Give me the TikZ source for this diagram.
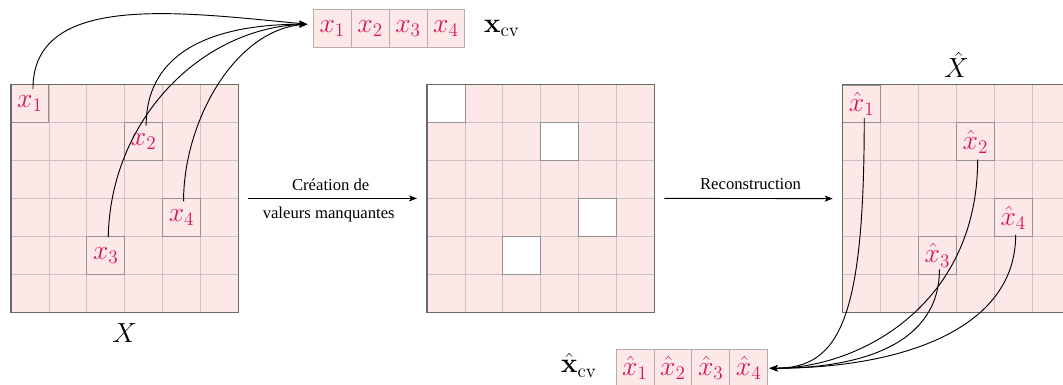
\documentclass[tikz,border=0pt]{standalone}
\usepackage[no-math]{fontspec}
\setmainfont{Liberation Serif}
\usetikzlibrary{calc,arrows.meta}
\definecolor{hl}{RGB}{214,22,90}
\definecolor{cellfill}{RGB}{253,232,232}
\definecolor{gridc}{RGB}{208,192,194}
\definecolor{borderc}{RGB}{105,105,105}
\definecolor{hcellc}{RGB}{150,145,145}
\begin{document}
\begin{tikzpicture}[x=0.75pt,y=-0.75pt,
  mat/.style={fill=cellfill, draw=none, minimum size=170.55pt, inner sep=0pt, outer sep=0pt},
  outerb/.style={draw=borderc, line width=0.8pt},
  gridline/.style={draw=gridc, line width=0.5pt},
  hcell/.style={draw=hcellc, line width=0.6pt, minimum size=28.42pt, inner sep=0pt, outer sep=0pt, text=hl, font=\fontsize{20}{24}\selectfont},
  vcell/.style={hcell, fill=cellfill, draw=gridc!70!gray},
  emptycell/.style={hcell, fill=white},
  big/.style={font=\fontsize{20}{24}\selectfont, inner sep=0pt},
  lbl/.style={font=\fontsize{12.5}{15}\selectfont, inner sep=0pt},
  curve/.style={line width=0.7pt, -{Stealth[length=6pt,width=4.5pt,inset=1.5pt]}},
  arr/.style={line width=0.7pt, -{Stealth[length=6pt,width=4.5pt,inset=1.5pt]}}
]
\clip (0,0) rectangle (1063,385);
\useasboundingbox (0,0) rectangle (1063,385);

% matrices
\node[mat] (L) at (124.7,198.4) {};
\node[mat] (M) at (540.7,198.4) {};
\node[mat] (R) at (956.4,198.6) {};
\foreach \m in {L,M,R}{
  \foreach \i in {1,...,5}{
    \draw[gridline] ($(\m.north west)+(\i*37.9,0)$) -- ($(\m.south west)+(\i*37.9,0)$);
    \draw[gridline] ($(\m.north west)+(0,\i*37.9)$) -- ($(\m.north east)+(0,\i*37.9)$);
  }
}

% highlighted cells, left
\node[hcell] (a1) at ($(L.north west)+(18.95,18.95)$) {$x_1$};
\node[hcell] (a2) at ($(L.north west)+(132.65,56.85)$) {$x_2$};
\node[hcell] (a3) at ($(L.north west)+(94.75,170.55)$) {$x_3$};
\node[hcell] (a4) at ($(L.north west)+(170.55,132.65)$) {$x_4$};

% missing cells, middle
\node[emptycell] (m1) at ($(M.north west)+(18.95,18.95)$) {};
\node[emptycell] (m2) at ($(M.north west)+(132.65,56.85)$) {};
\node[emptycell] (m3) at ($(M.north west)+(94.75,170.55)$) {};
\node[emptycell] (m4) at ($(M.north west)+(170.55,132.65)$) {};

% reconstructed cells, right
\node[hcell] (r1) at ($(R.north west)+(18.95,18.95)$) {$\hat{x}_1$};
\node[hcell] (r2) at ($(R.north west)+(132.65,56.85)$) {$\hat{x}_2$};
\node[hcell] (r3) at ($(R.north west)+(94.75,170.55)$) {$\hat{x}_3$};
\node[hcell] (r4) at ($(R.north west)+(170.55,132.65)$) {$\hat{x}_4$};

\foreach \m in {L,M,R}{
  \draw[outerb] (\m.north west) rectangle (\m.south east);
}

% labels of matrices
\node[big] (lX) at ($(L.south)+(0,21)$) {$X$};
\node[big] (lXh) at ($(R.north)+(0,-20)$) {$\hat{X}$};

% top vector
\node[vcell] (v1) at (332.25,28.2) {$x_1$};
\node[vcell, anchor=west] (v2) at (v1.east) {$x_2$};
\node[vcell, anchor=west] (v3) at (v2.east) {$x_3$};
\node[vcell, anchor=west] (v4) at (v3.east) {$x_4$};
\node[big, anchor=west] (xcv) at ($(v4.east)+(19,0)$) {$\mathbf{x}_{\mathrm{cv}}$};

% bottom vector
\node[vcell] (w1) at (634.95,368.25) {$\hat{x}_1$};
\node[vcell, anchor=west] (w2) at (w1.east) {$\hat{x}_2$};
\node[vcell, anchor=west] (w3) at (w2.east) {$\hat{x}_3$};
\node[vcell, anchor=west] (w4) at (w3.east) {$\hat{x}_4$};
\node[big, anchor=east] (xhcv) at ($(w1.west)+(-19,-3)$) {$\hat{\mathbf{x}}_{\mathrm{cv}}$};

% middle arrows
\coordinate (s1) at ($(L.east)+(10,0)$);
\coordinate (e1) at ($(M.west)+(-10,0)$);
\draw[arr] (s1) -- (e1);
\node[lbl] (t1a) at ($(s1)!0.5!(e1)+(-2,-14)$) {Création de};
\node[lbl] (t1b) at ($(s1)!0.5!(e1)+(-4,16)$) {valeurs manquantes};
\coordinate (s2) at ($(M.east)+(10,0)$);
\coordinate (e2) at ($(R.west)+(-10,0)$);
\draw[arr] (s2) -- (e2);
\node[lbl] (t2) at ($(s2)!0.5!(e2)+(2,-14)$) {Reconstruction};

% curves to top vector
\coordinate (tipT) at ($(v1.west)+(-6,-4)$);
\draw[curve] ($(a1.north)+(3,4)$) .. controls +(0,-97) and +(-127,-12) .. (tipT);
\draw[curve] ($(a2.north)+(2.5,3)$) .. controls +(0,-75.5) and +(-92,0) .. (tipT);
\draw[curve] ($(a3.north)+(2.5,1)$) .. controls +(2,-117) and +(-107,4) .. (tipT);
\draw[curve] ($(a4.north)+(2,3)$) .. controls +(0,-81) and +(-72,6) .. (tipT);

% curves to bottom vector
\coordinate (tipB) at ($(w4.east)+(2,0)$);
\draw[curve] ($(r1.south)+(2.6,-4.6)$) .. controls +(0,202) and +(70,0) .. (tipB);
\draw[curve] ($(r2.south)+(2.3,-1)$) .. controls +(0,145) and +(90,0) .. (tipB);
\draw[curve] ($(r3.south)+(2,-5)$) .. controls +(0,75.5) and +(90,0) .. (tipB);
\draw[curve] ($(r4.south)+(2.4,-1.5)$) .. controls +(0,95) and +(130,0) .. (tipB);
\end{tikzpicture}
\end{document}
